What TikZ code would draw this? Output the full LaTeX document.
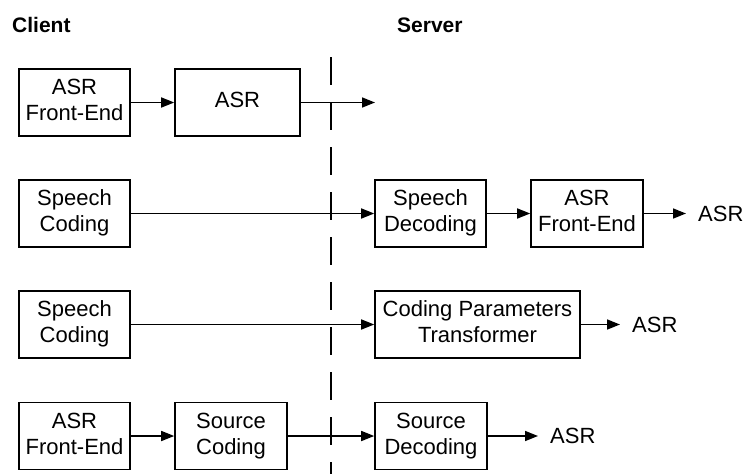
\documentclass[tikz,border=0pt]{standalone}
\usepackage{fontspec}
\setmainfont{Liberation Sans}
\usetikzlibrary{arrows.meta}
\begin{document}
\begin{tikzpicture}[x=1pt,y=-1pt,
  blk/.style={draw,line width=1.6pt,minimum height=67pt,inner sep=0pt,align=center,
    font=\fontsize{22}{26}\selectfont},
  lbl/.style={anchor=west,inner sep=0pt,inner xsep=12pt,font=\fontsize{22}{26}\selectfont},
  ttl/.style={anchor=base west,inner sep=0pt,font=\fontsize{21}{26}\selectfont\bfseries},
  conn/.style={line width=1.6pt,-{Triangle[length=13pt,width=10pt]}},
  sep/.style={line width=1.6pt,dash pattern=on 28pt off 17pt}]
\useasboundingbox (0,0) rectangle (744,474);
\node[ttl] (client) at (12,32) {Client};
\node[ttl] (server) at (397,32) {Server};
\coordinate (septop) at (331,57);
\coordinate (sepbot) at (331,474);
\draw[sep] (septop) -- (sepbot);
% row 1
\node[blk,minimum width=111pt] (fea) at (74.5,102.5) {\strut ASR\\\strut Front-End};
\node[blk,minimum width=125pt] (asra) at (237.5,102.5) {\strut ASR};
\coordinate (outa) at (375,102.5);
\draw[conn] (fea) -- (asra);
\draw[conn] (asra) -- (outa);
% row 2
\node[blk,minimum width=111pt] (scb) at (74.5,213.5) {\strut Speech\\\strut Coding};
\node[blk,minimum width=111pt] (sdb) at (430.5,213.5) {\strut Speech\\\strut Decoding};
\node[blk,minimum width=112pt] (feb) at (587,213.5) {\strut ASR\\\strut Front-End};
\node[lbl] (asrb) at (686,213.5) {ASR};
\draw[conn] (scb) -- (sdb);
\draw[conn] (sdb) -- (feb);
\draw[conn] (feb) -- (asrb);
% row 3
\node[blk,minimum width=111pt] (scc) at (74.5,324.5) {\strut Speech\\\strut Coding};
\node[blk,minimum width=205pt] (cpt) at (477.5,324.5) {\strut Coding Parameters\\\strut Transformer};
\node[lbl] (asrc) at (620,324.5) {ASR};
\draw[conn] (scc) -- (cpt);
\draw[conn] (cpt) -- (asrc);
% row 4
\node[blk,minimum width=111pt] (fed) at (74.5,436) {\strut ASR\\\strut Front-End};
\node[blk,minimum width=112pt] (socd) at (231,436) {\strut Source\\\strut Coding};
\node[blk,minimum width=112pt] (sdd) at (431,436) {\strut Source\\\strut Decoding};
\node[lbl] (asrd) at (538,436) {ASR};
\draw[conn] (fed) -- (socd);
\draw[conn] (socd) -- (sdd);
\draw[conn] (sdd) -- (asrd);
\end{tikzpicture}
\end{document}
